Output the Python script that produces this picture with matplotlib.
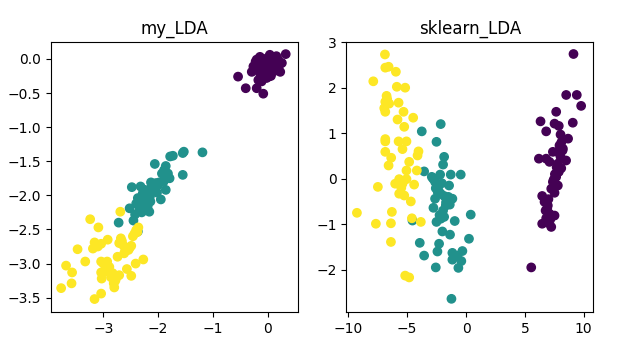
import numpy as np
import matplotlib
matplotlib.use("Agg")
import matplotlib.pyplot as plt

# my_LDA projection
my_x0 = [0.33, -0.54, -0.40, -0.20, -0.08, -0.11, -0.14, 0.04, 0.16, 0.26, 0.23, -0.26, -0.20,
         -0.08, 0.01, 0.10, -0.05, 0.07, -0.14, -0.02, -0.17, 0.13, -0.29, -0.11, 0.04, 0.19,
         -0.02, 0.05, -0.12, 0.08, -0.06, 0.12, -0.18, 0.00, 0.20, -0.09, 0.03, -0.15, 0.10, -0.04,
         0.15, -0.22, 0.06, -0.01, 0.09, -0.07, 0.02, -0.12, 0.18, -0.03]
my_y0 = [0.07, -0.26, -0.43, -0.43, -0.51, -0.33, 0.03, 0.06, 0.04, -0.06, -0.19, -0.11, -0.01,
         -0.04, -0.06, -0.01, -0.16, -0.21, -0.21, -0.28, -0.31, -0.14, -0.19, -0.11, -0.11, -0.02,
         -0.02, 0.00, -0.06, -0.08, -0.13, -0.10, -0.08, -0.19, -0.12, -0.24, -0.15, -0.14, 0.02, -0.09,
         -0.17, -0.04, -0.25, 0.01, -0.05, -0.20, -0.26, -0.12, 0.00, -0.18]
my_x1 = [-1.19, -1.53, -1.55, -1.73, -1.78, -2.06, -1.86, -1.89, -1.82, -1.93, -1.55, -1.79,
         -2.48, -2.32, -2.13, -1.98, -1.86, -1.95, -2.28, -2.37, -2.31, -2.22, -2.14, -2.40,
         -2.28, -2.19, -2.34, -2.25, -2.16, -2.30, -2.52, -2.72, -2.45, -2.37, -2.07, -2.04,
         -2.02, -2.10, -2.18, -2.26, -2.35, -2.20, -2.12, -2.24, -2.33, -2.00, -2.15, -1.90,
         -2.27, -2.42]
my_y1 = [-1.37, -1.36, -1.38, -1.42, -1.43, -1.54, -1.57, -1.63, -1.68, -1.68, -1.70, -1.75,
         -1.88, -1.87, -1.81, -1.81, -1.92, -2.06, -1.97, -2.04, -2.07, -2.04, -2.09, -2.12,
         -2.14, -2.16, -2.21, -2.22, -2.24, -2.25, -2.19, -2.40, -2.37, -2.53, -1.90, -1.82,
         -1.96, -1.86, -1.95, -2.10, -2.15, -2.00, -1.88, -1.92, -2.18, -1.85, -2.02, -1.80,
         -2.08, -2.28]
my_x2 = [-2.69, -3.24, -3.09, -2.36, -2.40, -2.43, -2.46, -2.92, -2.68, -3.16, -3.04, -3.19,
         -3.47, -2.71, -2.63, -2.49, -2.54, -2.62, -2.74, -3.33, -3.04, -2.93, -2.27, -2.41,
         -3.68, -2.89, -2.98, -2.83, -2.57, -3.57, -3.04, -2.71, -2.77, -2.49, -3.03, -3.58,
         -2.81, -3.77, -2.80, -3.04, -3.16, -2.38, -2.66, -2.95, -3.10, -2.86, -2.60, -3.00,
         -2.78, -2.52]
my_y2 = [-2.24, -2.35, -2.47, -2.47, -2.51, -2.56, -2.60, -2.65, -2.63, -2.69, -2.71, -2.78,
         -2.79, -2.70, -2.74, -2.74, -2.80, -2.85, -2.90, -2.97, -2.97, -2.97, -2.94, -3.00,
         -3.03, -3.05, -3.12, -3.14, -3.08, -3.13, -3.13, -3.17, -3.22, -3.18, -3.22, -3.29,
         -3.29, -3.36, -3.35, -3.44, -3.52, -2.54, -2.67, -3.08, -2.75, -3.20, -2.82, -3.00,
         -3.25, -2.77]

# sklearn_LDA projection
sk_x0 = [9.13, 8.51, 9.41, 9.78, 7.66, 6.33, 7.52, 7.88, 9.07, 6.81, 8.03, 8.67, 7.94, 8.23,
         7.80, 7.38, 6.19, 6.81, 7.09, 8.50, 8.03, 7.80, 8.09, 7.88, 7.66, 7.38, 7.80, 7.24,
         7.52, 6.47, 6.67, 6.95, 6.76, 7.09, 6.81, 7.52, 6.47, 7.24, 6.95, 5.54, 8.10, 7.95,
         7.70, 7.55, 7.45, 7.00, 6.90, 8.20, 7.60, 7.15]
sk_y0 = [2.74, 1.84, 1.84, 1.60, 1.47, 1.26, 1.21, 1.16, 1.23, 1.04, 0.97, 0.88, 0.73, 0.66,
         0.59, 0.59, 0.44, 0.44, 0.37, 0.40, 0.48, 0.33, 0.23, 0.15, 0.04, -0.07, -0.15, -0.22,
         -0.31, -0.38, -0.51, -0.59, -0.70, -0.77, -0.87, -0.81, -0.99, -1.06, -0.97, -1.95, 0.80,
         0.55, 0.25, 0.10, -0.02, -0.45, -0.65, 0.62, -0.12, -0.90]
sk_x1 = [-2.15, -3.76, -2.51, -1.86, -1.95, -3.56, -2.91, -2.20, -1.30, -0.45, -2.63, -1.44,
         -2.57, -2.15, -1.86, -2.63, -1.58, -1.16, -1.72, -1.38, -2.77, 0.40, -1.86, -2.15,
         -2.51, -0.96, -4.55, -2.01, -1.36, -3.93, -2.29, 0.25, -2.43, -1.16, -0.73, -0.31,
         -3.56, -1.16, -0.40, -2.57, -0.65, -1.24, -2.40, -1.70, -2.05, -2.80, -1.50, -2.35,
         -1.95, -2.25]
sk_y1 = [1.20, 1.04, 0.81, 0.48, 0.31, 0.16, 0.04, 0.09, 0.09, 0.09, -0.07, -0.15, -0.21,
         -0.33, -0.38, -0.44, -0.48, -0.44, -0.59, -0.57, -0.64, -0.79, -0.84, -0.88, -0.95,
         -0.93, -0.92, -1.16, -1.23, -1.41, -1.43, -1.32, -1.60, -1.63, -1.69, -1.59, -1.69,
         -1.78, -1.81, -1.95, -1.96, -2.64, -0.30, -0.52, -0.10, 0.00, -0.40, -0.25, -0.70,
         -0.80]
sk_x2 = [-6.89, -6.86, -6.58, -5.96, -7.88, -5.88, -5.17, -6.75, -6.86, -6.53, -5.73, -6.86,
         -5.31, -4.49, -5.82, -5.25, -6.86, -6.86, -5.73, -5.06, -5.40, -6.86, -4.04, -4.12,
         -6.36, -6.58, -4.83, -5.06, -4.18, -5.68, -5.06, -6.02, -5.40, -4.41, -7.49, -5.68,
         -5.25, -4.69, -9.27, -6.30, -4.60, -3.84, -7.66, -6.38, -6.38, -5.17, -4.83, -6.70,
         -5.50, -6.95]
sk_y2 = [2.73, 2.44, 2.46, 2.35, 2.14, 2.02, 2.00, 1.82, 1.69, 1.65, 1.67, 1.47, 1.47, 1.34,
         1.30, 1.14, 0.87, 0.82, 0.82, 0.82, 0.65, 0.59, 0.60, 0.51, 0.46, 0.29, 0.37, 0.18,
         0.18, -0.01, -0.01, -0.11, -0.11, -0.13, -0.18, -0.33, -0.37, -0.50, -0.75, -0.73,
         -0.87, -0.95, -0.99, -0.98, -1.39, -2.13, -2.17, 1.75, -0.20, 1.55]


def stack(xs, ys):
    x = np.concatenate(xs)
    y = np.concatenate(ys)
    lab = np.concatenate([np.full(len(a), i) for i, a in enumerate(xs)])
    return x, y, lab


fig = plt.figure(figsize=(6.22, 3.39), dpi=100)
ax1 = fig.add_axes([0.082, 0.0796, 0.397, 0.796])
ax2 = fig.add_axes([0.5568, 0.0796, 0.397, 0.796])

x, y, lab = stack([my_x0, my_x1, my_x2], [my_y0, my_y1, my_y2])
ax1.scatter(x, y, c=lab, cmap="viridis", vmin=0, vmax=2)
ax1.set_title("my_LDA")
ax1.set_xlim(-3.955, 0.553)
ax1.set_ylim(-3.71, 0.245)
ax1.set_xticks([-3, -2, -1, 0])
ax1.set_yticks(np.arange(-3.5, 0.01, 0.5))

x, y, lab = stack([sk_x0, sk_x1, sk_x2], [sk_y0, sk_y1, sk_y2])
ax2.scatter(x, y, c=lab, cmap="viridis", vmin=0, vmax=2)
ax2.set_title("sklearn_LDA")
ax2.set_xlim(-10.17, 10.81)
ax2.set_ylim(-2.93, 3.0)

fig.savefig("out.png", dpi=100)
